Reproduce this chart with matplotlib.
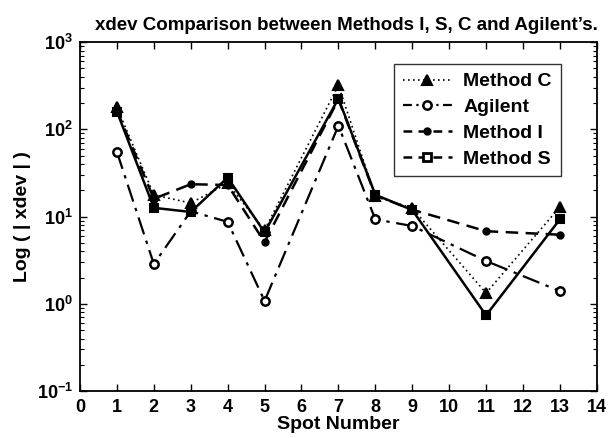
import matplotlib
matplotlib.use("Agg")
import matplotlib.pyplot as plt
from matplotlib.ticker import LogLocator, FixedLocator
from matplotlib.lines import Line2D

plt.rcParams['font.family'] = ['Liberation Sans', 'DejaVu Sans']
plt.rcParams['font.weight'] = 'bold'
plt.rcParams['mathtext.fontset'] = 'custom'
plt.rcParams['mathtext.rm'] = 'Liberation Sans:bold'
plt.rcParams['mathtext.bf'] = 'Liberation Sans:bold'
plt.rcParams['mathtext.it'] = 'Liberation Sans:bold'

spots = [1, 2, 3, 4, 5, 7, 8, 9, 11, 13]
method_c = [180, 17.7, 14.3, 24, 7.0, 320, 17, 12.5, 1.33, 12.9]
agilent = [55, 2.86, 11.5, 8.7, 1.08, 110, 9.3, 7.8, 3.1, 1.4]
method_i = [165, 16, 23.5, 23, 5.1, 220, 17.5, 12, 6.8, 6.2]
method_s = [160, 12.6, 11.3, 28, 6.6, 225, 17.8, 11.9, 0.74, 9.3]
labels = ['Method C', 'Agilent', 'Method I', 'Method S']

fig = plt.figure(figsize=(6.08, 4.38), dpi=100)
ax = fig.add_axes([0.1316, 0.107, 0.850, 0.797])

ax.plot(spots, method_c, linestyle=(0, (1, 2)), color='black', lw=1.2, marker='^',
        markersize=7, markerfacecolor='black', markeredgewidth=1.5)
ax.plot(spots, agilent, linestyle=(0, (8, 3, 1.5, 3)), color='black', lw=1.6, marker='o',
        markersize=6, markerfacecolor='white', markeredgewidth=1.8)
ax.plot(spots, method_i, linestyle=(0, (5, 3)), color='black', lw=1.8, marker='o',
        markersize=5, markerfacecolor='black')
ax.plot(spots, method_s, linestyle='-', color='black', lw=1.8, marker='s',
        markersize=6, markerfacecolor='black', markeredgewidth=1.5)

handles = [
    Line2D([], [], linestyle=(0, (1, 2)), color='black', lw=1.2, marker='^',
           markersize=7, markerfacecolor='black', markeredgewidth=1.5),
    Line2D([], [], linestyle=(0, (4, 2, 1, 2)), color='black', lw=1.6, marker='o',
           markersize=6, markerfacecolor='white', markeredgewidth=1.8),
    Line2D([], [], linestyle=(0, (3.5, 2.5)), color='black', lw=1.8, marker='o',
           markersize=5, markerfacecolor='black'),
    Line2D([], [], linestyle=(0, (3.5, 2.5)), color='black', lw=1.8, marker='s',
           markersize=6, markerfacecolor='white', markeredgewidth=2),
]

ax.set_yscale('log')
ax.set_xlim(0, 14)
ax.set_ylim(0.1, 1000)
ax.xaxis.set_major_locator(FixedLocator(range(0, 15)))
ax.yaxis.set_major_locator(LogLocator(base=10, numticks=10))
ax.yaxis.set_minor_locator(LogLocator(base=10, subs=range(2, 10), numticks=20))
ax.tick_params(which='both', direction='in', top=True, right=True, labelsize=13)
ax.tick_params(axis='x', which='major', pad=6)
ax.tick_params(axis='y', which='major', pad=5)
ax.tick_params(which='major', length=5, width=1)
ax.tick_params(which='minor', length=3, width=0.8)
for lab in ax.get_xticklabels() + ax.get_yticklabels():
    lab.set_fontweight('bold')
for s in ax.spines.values():
    s.set_linewidth(1.3)

ax.set_xlabel('Spot Number', fontsize=14, fontweight='bold', labelpad=0)
ax.set_ylabel('Log ( | xdev | )', fontsize=14, fontweight='bold', labelpad=4)
ax.set_title("xdev Comparison between Methods I, S, C and Agilent\u2019s.", fontsize=13.5,
             fontweight='bold', pad=9, x=0.515)

leg = ax.legend(handles, labels, loc='upper right', bbox_to_anchor=(0.93, 0.937),
                prop={'weight': 'bold', 'size': 14}, frameon=True, fancybox=False,
                handlelength=2.5, borderpad=0.45, labelspacing=0.42, handletextpad=0.6,
                borderaxespad=0)
leg.get_frame().set_edgecolor('black')
leg.get_frame().set_linewidth(1.0)

fig.savefig('out.png', dpi=100)
